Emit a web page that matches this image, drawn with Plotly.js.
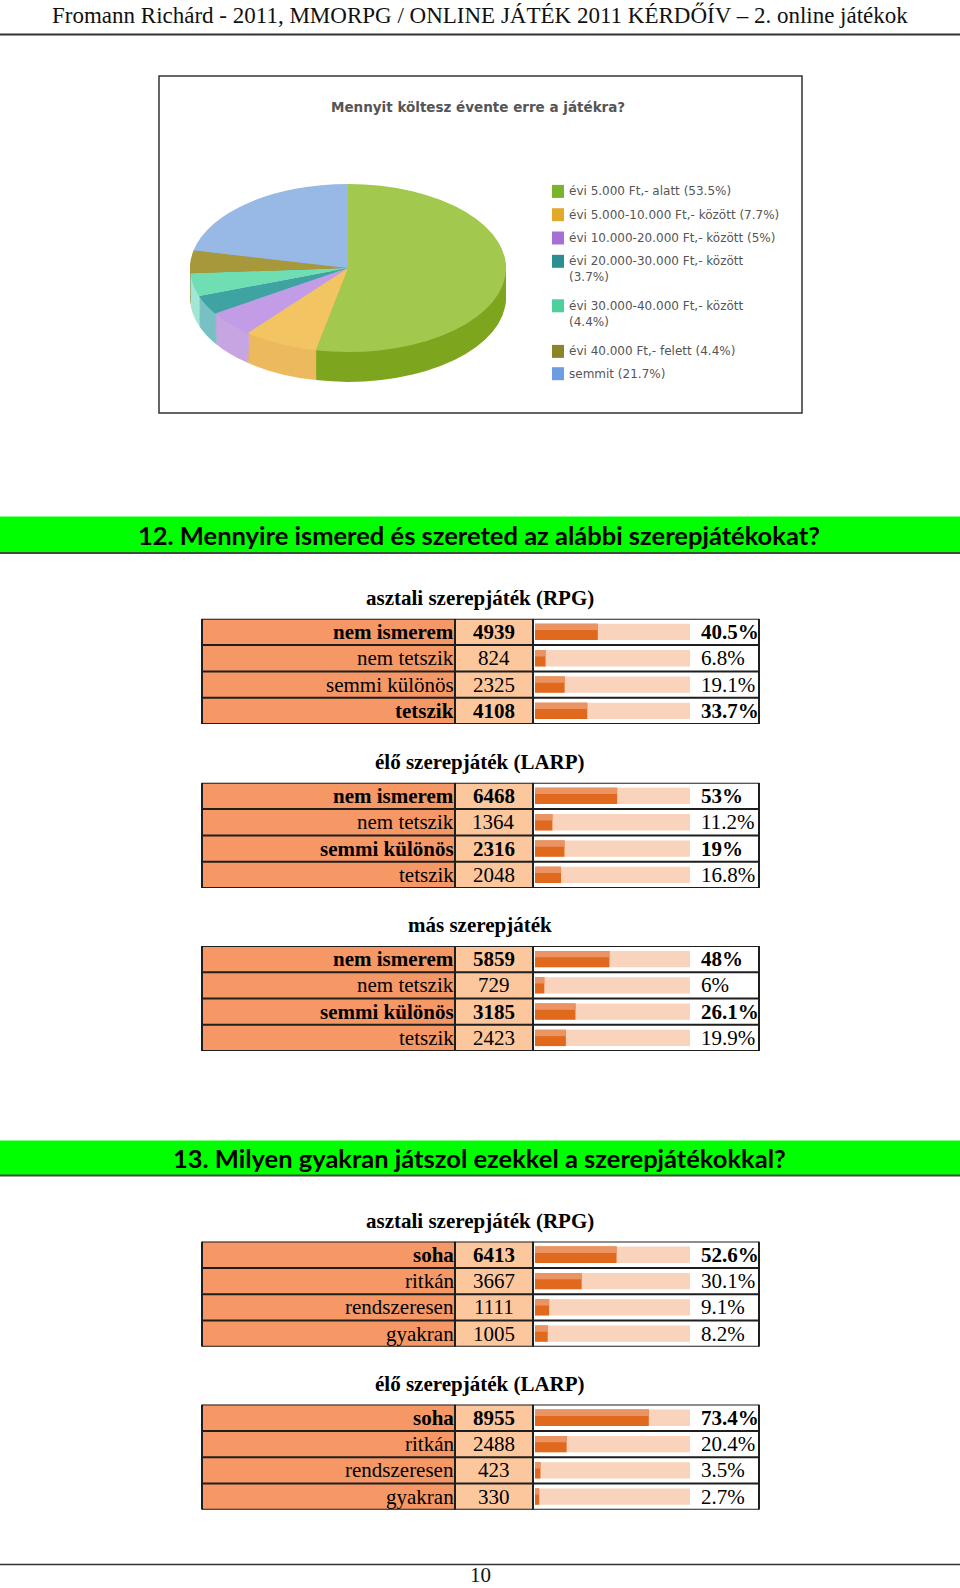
<!DOCTYPE html>
<html><head><meta charset="utf-8">
<script src="https://cdn.plot.ly/plotly-3.0.1.min.js"></script>
<style>
html,body{margin:0;padding:0;background:#fff;overflow:hidden;width:960px;height:1588px;}
#page{position:absolute;left:0;top:0;width:960px;height:1588px;}
#pie{position:absolute;left:190px;top:184px;width:316px;height:372px;transform-origin:0 0;transform:scaleY(0.532);}
</style></head><body>
<div id="page"></div><div id="pie"></div>
<script>
// ---------------- DATA ----------------
const headerText = 'Fromann Richárd - 2011, MMORPG / ONLINE JÁTÉK 2011 KÉRDŐÍV – 2. online játékok';
const pieTitle = 'Mennyit költesz évente erre a játékra?';
const pieLabels = ['évi 5.000 Ft,- alatt', 'évi 5.000-10.000 Ft,- között', 'évi 10.000-20.000 Ft,- között',
                   'évi 20.000-30.000 Ft,- között', 'évi 30.000-40.000 Ft,- között', 'évi 40.000 Ft,- felett', 'semmit'];
const pieValues = [53.5, 7.7, 5, 3.7, 4.4, 4.4, 21.7];

const q12Title = '12. Mennyire ismered és szereted az alábbi szerepjátékokat?';
const q13Title = '13. Milyen gyakran játszol ezekkel a szerepjátékokkal?';

const knowCats = ['nem ismerem', 'nem tetszik', 'semmi különös', 'tetszik'];
const rpgKnowCounts = [4939, 824, 2325, 4108];
const rpgKnowPct = [40.5, 6.8, 19.1, 33.7];
const larpKnowCounts = [6468, 1364, 2316, 2048];
const larpKnowPct = [53, 11.2, 19, 16.8];
const otherKnowCounts = [5859, 729, 3185, 2423];
const otherKnowPct = [48, 6, 26.1, 19.9];

const freqCats = ['soha', 'ritkán', 'rendszeresen', 'gyakran'];
const rpgFreqCounts = [6413, 3667, 1111, 1005];
const rpgFreqPct = [52.6, 30.1, 9.1, 8.2];
const larpFreqCounts = [8955, 2488, 423, 330];
const larpFreqPct = [73.4, 20.4, 3.5, 2.7];

const tableTitles = ['asztali szerepjáték (RPG)', 'élő szerepjáték (LARP)', 'más szerepjáték',
                     'asztali szerepjáték (RPG)', 'élő szerepjáték (LARP)'];
const pageNumber = '10';

// ---------------- STYLE ----------------
const W = 960, H = 1588;
const px = v => v / W;
const py = v => 1 - v / H;
const serif = 'Liberation Serif, Times New Roman, serif';
const sans = 'DejaVu Sans, Verdana, sans-serif';

const pieTop  = ['#a2c84e', '#f2c462', '#c29ce6', '#3fa3a2', '#6fdfb3', '#a8983c', '#98b9e6'];
const pieSide = ['#7da61e', '#ecb95e', '#c7a5e2', '#78c0c4', '#a3e6d6', '#958428', '#7ea5d8'];
const legendCol = ['#7ab32e', '#e3aa2a', '#a470d6', '#2a8f90', '#4fcf9d', '#8a8528', '#6b9de0'];
const legendWrap = [false, false, false, true, true, false, false];
const legendY = [191.4, 214.7, 238, 261.3, 305.8, 351.4, 373.7];

const labelFill = '#f59866', numFill = '#fcc79c', trackCol = '#f9d3bb', barDark = '#e1691e', barLight = '#eb9463';
const gridCol = '#1e1e1e';
const RH = 26.3;
const tableTops = [618.8, 782.8, 945.9, 1241.6, 1404.6];
const boldRows = [[1,0,0,1],[1,0,1,0],[1,0,1,0],[1,0,0,0],[1,0,0,0]];
const colL = 202, colA = 455, colB = 533, colR = 759, barX0 = 535, barX1 = 690, pctX = 699;

const tables = [
  {cats: knowCats, counts: rpgKnowCounts, pct: rpgKnowPct},
  {cats: knowCats, counts: larpKnowCounts, pct: larpKnowPct},
  {cats: knowCats, counts: otherKnowCounts, pct: otherKnowPct},
  {cats: freqCats, counts: rpgFreqCounts, pct: rpgFreqPct},
  {cats: freqCats, counts: larpFreqCounts, pct: larpFreqPct}
];

// ---------------- MAIN PAGE FIGURE ----------------
const data = [];
const shapes = [];
const annotations = [];
const layout = {
  width: W, height: H, margin: {l: 0, r: 0, t: 0, b: 0},
  paper_bgcolor: '#ffffff', plot_bgcolor: 'rgba(0,0,0,0)',
  showlegend: false, barmode: 'overlay', hovermode: false
};

function ann(text, x, y, opts) {
  annotations.push(Object.assign({text: text, x: x, y: y, xref: 'paper', yref: 'paper', showarrow: false,
    xanchor: 'center', yanchor: 'middle'}, opts));
}

// header
ann(headerText, px(480), py(15), {font: {family: serif, size: 23, color: '#111'}});
shapes.push({type: 'line', xref: 'paper', yref: 'paper', x0: 0, x1: 1, y0: py(34.5), y1: py(34.5), line: {color: '#333', width: 2}});

// pie box + title + legend
shapes.push({type: 'rect', xref: 'paper', yref: 'paper', x0: px(159), x1: px(802), y0: py(76), y1: py(413),
  line: {color: '#333', width: 1.5}, fillcolor: 'rgba(0,0,0,0)'});
ann(pieTitle, px(478), py(107), {font: {family: sans, size: 13.5, color: '#555', weight: 'bold'}});
pieLabels.forEach((lab, i) => {
  const txt = lab + (legendWrap[i] ? '<br>' : ' ') + '(' + pieValues[i] + '%)';
  ann(txt, px(567), py(legendY[i] - 9), {xanchor: 'left', yanchor: 'top', align: 'left',
    font: {family: sans, size: 12, color: '#555'}});
  shapes.push({type: 'rect', xref: 'paper', yref: 'paper', x0: px(552), x1: px(564),
    y0: py(legendY[i] - 6.5), y1: py(legendY[i] + 6.5), fillcolor: legendCol[i], line: {width: 0}});
});

// green bands
function band(y0, y1, text) {
  shapes.push({type: 'rect', xref: 'paper', yref: 'paper', x0: 0, x1: 1, y0: py(y0), y1: py(y1),
    fillcolor: '#00ff00', line: {width: 0}, layer: 'below'});
  shapes.push({type: 'line', xref: 'paper', yref: 'paper', x0: 0, x1: 1, y0: py(y1), y1: py(y1),
    line: {color: '#3b4f3b', width: 2}});
  ann(text, px(479), py((y0 + y1) / 2), {font: {family: 'Lato, Open Sans, sans-serif', size: 25.5, color: '#000', weight: 'bold'}});
}
band(516.5, 553, q12Title);
band(1140.5, 1175.5, q13Title);

// tables
tables.forEach((t, i) => {
  const n = i + 1;
  const xa = 'x' + (n > 1 ? n : ''), ya = 'y' + (n > 1 ? n : '');
  const xk = 'xaxis' + (n > 1 ? n : ''), yk = 'yaxis' + (n > 1 ? n : '');
  const top = tableTops[i], bot = top + 4 * RH;
  layout[xk] = {domain: [px(barX0), px(barX1)], range: [0, 100], visible: false, fixedrange: true, anchor: ya};
  layout[yk] = {domain: [py(bot), py(top)], type: 'category', categoryarray: t.cats, categoryorder: 'array',
    range: [t.cats.length - 0.5, -0.5], visible: false, fixedrange: true, anchor: xa};

  data.push({type: 'bar', orientation: 'h', y: t.cats, x: t.cats.map(() => 100), xaxis: xa, yaxis: ya,
    width: 0.62, marker: {color: trackCol, line: {width: 0}}, hoverinfo: 'skip'});
  data.push({type: 'bar', orientation: 'h', y: t.cats, x: t.pct, xaxis: xa, yaxis: ya,
    width: 0.62, marker: {color: barDark, line: {width: 0}}, hoverinfo: 'skip'});
  data.push({type: 'bar', orientation: 'h', y: t.cats, x: t.pct, xaxis: xa, yaxis: ya,
    width: 0.24, offset: -0.31, marker: {color: barLight, line: {width: 0}}, hoverinfo: 'skip'});

  // cell fills
  shapes.push({type: 'rect', xref: 'paper', yref: ya, x0: px(colL), x1: px(colA), y0: -0.5, y1: t.cats.length - 0.5,
    fillcolor: labelFill, line: {width: 0}, layer: 'below'});
  shapes.push({type: 'rect', xref: 'paper', yref: ya, x0: px(colA), x1: px(colB), y0: -0.5, y1: t.cats.length - 0.5,
    fillcolor: numFill, line: {width: 0}, layer: 'below'});
  // grid
  for (let k = 0; k <= t.cats.length; k++) {
    shapes.push({type: 'line', xref: 'paper', yref: ya, x0: px(colL), x1: px(colR), y0: k - 0.5, y1: k - 0.5,
      line: {color: gridCol, width: 2}});
  }
  [colL, colA, colB, colR].forEach(cx => {
    shapes.push({type: 'line', xref: 'paper', yref: ya, x0: px(cx), x1: px(cx), y0: -0.5, y1: t.cats.length - 0.5,
      line: {color: gridCol, width: 2}});
  });

  // title
  ann(tableTitles[i], px(480), py(top - 20.5), {font: {family: serif, size: 21, color: '#000', weight: 'bold'}});
  // texts
  t.cats.forEach((c, r) => {
    const w = boldRows[i][r] ? 'bold' : 'normal';
    const f = {family: serif, size: 21, color: '#000', weight: w};
    annotations.push({text: c, x: px(colA + 1), y: r, xref: 'paper', yref: ya, xanchor: 'right', yanchor: 'middle',
      showarrow: false, font: f});
    annotations.push({text: String(t.counts[r]), x: px((colA + colB) / 2), y: r, xref: 'paper', yref: ya,
      xanchor: 'center', yanchor: 'middle', showarrow: false, font: f});
    annotations.push({text: t.pct[r] + '%', x: px(pctX), y: r, xref: 'paper', yref: ya, xanchor: 'left',
      yanchor: 'middle', showarrow: false, font: f});
  });
});

// footer
shapes.push({type: 'line', xref: 'paper', yref: 'paper', x0: 0, x1: 1, y0: py(1564.6), y1: py(1564.6), line: {color: '#333', width: 1.5}});
ann(pageNumber, px(480), py(1588), {yanchor: 'bottom', borderpad: 0, font: {family: serif, size: 21, color: '#111'}});

layout.shapes = shapes;
layout.annotations = annotations;
Plotly.newPlot('page', data, layout, {staticPlot: true, displayModeBar: false});

// ---------------- 3D-LOOK PIE (squashed by CSS) ----------------
const D = 316, DEPTH = 56, PH = D + DEPTH;
const pieData = [];
for (let k = DEPTH; k >= 0; k -= 4) {
  const isTop = k === 0;
  pieData.push({type: 'pie', labels: pieLabels, values: pieValues, sort: false, direction: 'clockwise', rotation: 0,
    marker: {colors: isTop ? pieTop : pieSide, line: {width: 0}}, textinfo: 'none', hoverinfo: 'skip', showlegend: false,
    domain: {x: [0, 1], y: [(DEPTH - k) / PH, (PH - k) / PH]}});
}
Plotly.newPlot('pie', pieData, {width: D, height: PH, margin: {l: 0, r: 0, t: 0, b: 0},
  paper_bgcolor: 'rgba(0,0,0,0)', showlegend: false}, {staticPlot: true, displayModeBar: false});
</script>
</body></html>
